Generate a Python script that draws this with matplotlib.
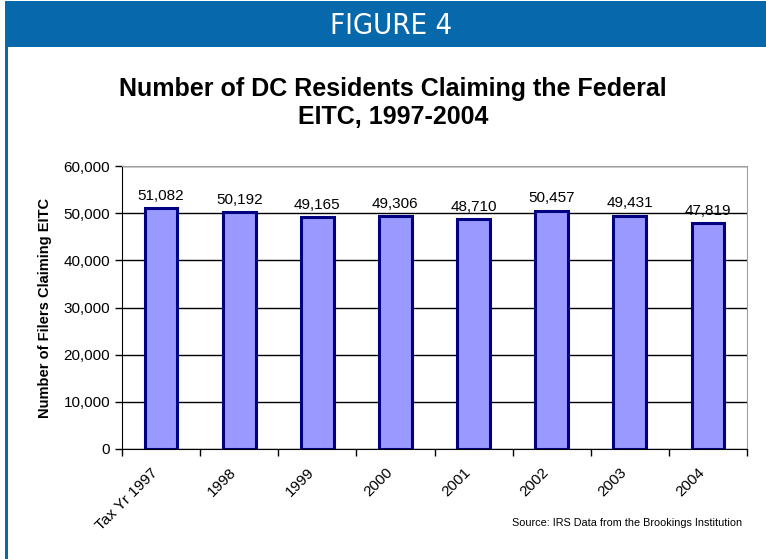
#bar chart of DC residents claiming the federal EITC, saved as out.png

import matplotlib.pyplot as plt
from matplotlib.patches import Rectangle
from matplotlib.ticker import FuncFormatter
from matplotlib.transforms import ScaledTranslation

years = ["Tax Yr 1997", "1998", "1999", "2000", "2001", "2002", "2003", "2004"]
filers = [51082, 50192, 49165, 49306, 48710, 50457, 49431, 47819]
y_ticks = [0, 10000, 20000, 30000, 40000, 50000, 60000]

plt.rcParams['font.family'] = ['Liberation Sans', 'DejaVu Sans']

fig = plt.figure(figsize=(7.66, 5.59), dpi=100)

#blue header band and left border
blue = "#0768AC"
fig.patches.append(Rectangle((5/766, 1-47/559), 1, 46/559, transform=fig.transFigure,
                             facecolor=blue, edgecolor="none"))
fig.patches.append(Rectangle((5/766, 0), 2.5/766, 1-47/559, transform=fig.transFigure,
                             facecolor=blue, edgecolor="none"))
fig.text(391/766, 1-26/559, "FIGURE 4", color="white", fontsize=21, ha="center", va="center",
         family="DejaVu Sans", fontstretch="condensed")

fig.text(393/766, 1-103/559, "Number of DC Residents Claiming the Federal\nEITC, 1997-2004",
         fontsize=18, fontweight="bold", ha="center", va="center", linespacing=1.2)

ax = fig.add_axes([122/766, 1-449/559, 625/766, 283/559])
x = range(len(years))
bars = ax.bar(x, filers, width=0.42, color="#9999FF", edgecolor="#000080", linewidth=2.2, zorder=3)

for xi, v in zip(x, filers):
    ax.annotate(f"{v:,}", (xi, v), xytext=(0, 4), textcoords="offset points",
                ha="center", va="bottom", fontsize=11)

ax.set_xlim(-0.5, len(years) - 0.5)
ax.set_ylim(0, 60000)
ax.set_yticks(y_ticks)
ax.yaxis.set_major_formatter(FuncFormatter(lambda v, p: f"{int(v):,}"))
ax.yaxis.grid(True, color="black", linewidth=1, zorder=0)
ax.tick_params(axis="y", labelsize=11, length=5, direction="out", width=1)

#ticks between categories, labels under the bars
ax.set_xticks([i - 0.5 for i in range(len(years) + 1)])
ax.set_xticklabels([])
ax.tick_params(axis="x", which="major", length=5, direction="out", width=1)
ax.set_xticks(list(x), minor=True)
ax.set_xticklabels(years, minor=True, rotation=45, ha="right", rotation_mode="anchor", fontsize=11)
ax.tick_params(axis="x", which="minor", length=0, pad=12)
shift = ScaledTranslation(-10/100, 0, fig.dpi_scale_trans)
for lbl in ax.get_xticklabels(minor=True):
    lbl.set_transform(lbl.get_transform() + shift)

ax.set_ylabel("Number of Filers Claiming EITC", fontsize=10.5, fontweight="bold", labelpad=8)

for s in ["top", "right"]:
    ax.spines[s].set_color("#A0A0A0")
for s in ["left", "bottom"]:
    ax.spines[s].set_color("black")

fig.text(742/766, 1-523/559, "Source: IRS Data from the Brookings Institution",
         fontsize=7.8, ha="right", va="center")

plt.savefig("out.png", dpi=100)
